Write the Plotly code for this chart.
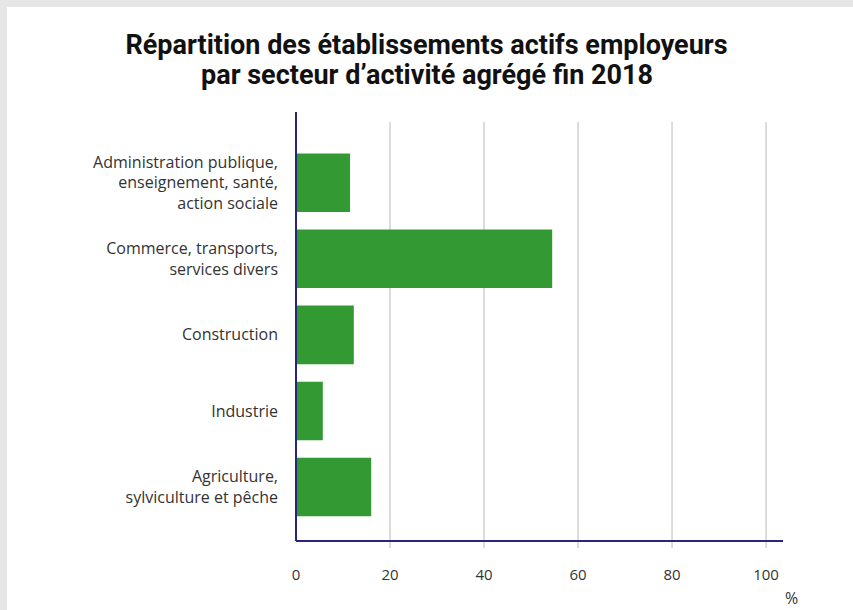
import plotly.graph_objects as go

# Data (bottom to top, as drawn on the horizontal bar chart)
secteurs = [
    'Agriculture,<br>sylviculture et pêche',
    'Industrie',
    'Construction',
    'Commerce, transports,<br>services divers',
    'Administration publique,<br>enseignement, santé,<br>action sociale',
]
parts = [16.0, 5.7, 12.3, 54.5, 11.5]
x_ticks = [0, 20, 40, 60, 80, 100]

GREEN = '#339933'
NAVY = '#27277a'
GRID = '#c9c9c9'
TEXT = '#333333'

# Plot area in pixels (853x610 canvas)
L, R, T, B = 296, 783, 112, 541
W, H = 853, 610
pw, ph = R - L, B - T


def px_x(p):
    return (p - L) / pw


def px_y(p):
    return (B - p) / ph


fig = go.Figure()

fig.add_trace(go.Bar(
    x=parts,
    y=secteurs,
    orientation='h',
    marker=dict(color=GREEN, line=dict(width=0)),
    width=0.77,
    hovertemplate='%{y}: %{x} %<extra></extra>',
))

shapes = [
    # grey frame + white card
    dict(type='rect', xref='paper', yref='paper', layer='below',
         x0=px_x(7), x1=px_x(W + 5), y0=px_y(H + 5), y1=px_y(7),
         fillcolor='white', line=dict(width=0)),
]
# vertical grid lines, slightly below the axis like tick marks
for t in x_ticks[1:]:
    shapes.append(dict(type='line', xref='x', yref='paper', layer='below',
                       x0=t, x1=t, y0=px_y(548), y1=px_y(122),
                       line=dict(color=GRID, width=1.3)))
# axes lines
shapes.append(dict(type='line', xref='paper', yref='paper',
                   x0=0, x1=1, y0=0, y1=0, line=dict(color=NAVY, width=2)))
shapes.append(dict(type='line', xref='paper', yref='paper',
                   x0=0, x1=0, y0=0, y1=1, line=dict(color=NAVY, width=2)))

title_font = dict(family='Roboto, sans-serif', size=27, color='#111111')

fig.update_layout(
    width=W,
    height=H,
    paper_bgcolor='#e6e6e6',
    plot_bgcolor='rgba(0,0,0,0)',
    margin=dict(l=L, r=W - R, t=T, b=H - B),
    showlegend=False,
    shapes=shapes,
    font=dict(family='Open Sans, sans-serif', size=16, color=TEXT),
    title=dict(
        text='<b>Répartition des établissements actifs employeurs</b>',
        x=0.5, xref='container', xanchor='center',
        y=1 - 45 / H, yref='container', yanchor='middle',
        font=title_font,
    ),
    xaxis=dict(
        range=[0, 103.6],
        tickvals=x_ticks,
        showgrid=False,
        zeroline=False,
        showline=False,
        ticks='',
        ticklabelstandoff=23,
        tickfont=dict(size=15, color=TEXT),
    ),
    yaxis=dict(
        range=[-0.71, 4.93],
        showgrid=False,
        zeroline=False,
        showline=False,
        ticks='',
        ticklabelstandoff=17,
        tickfont=dict(size=16, color=TEXT),
    ),
    annotations=[
        dict(text='<b>par secteur d’activité agrégé fin 2018</b>',
             xref='paper', yref='paper',
             x=px_x(W / 2), y=px_y(75), xanchor='center', yanchor='middle',
             showarrow=False, font=title_font),
        dict(text='%', xref='paper', yref='paper',
             x=px_x(791), y=px_y(598), xanchor='center', yanchor='middle',
             showarrow=False, font=dict(size=16, color=TEXT)),
    ],
)

# remove the default 8px body margin so the figure fills the window
fig.write_html('out.html', config={'displayModeBar': False},
               post_script="document.body.style.margin='0';")
